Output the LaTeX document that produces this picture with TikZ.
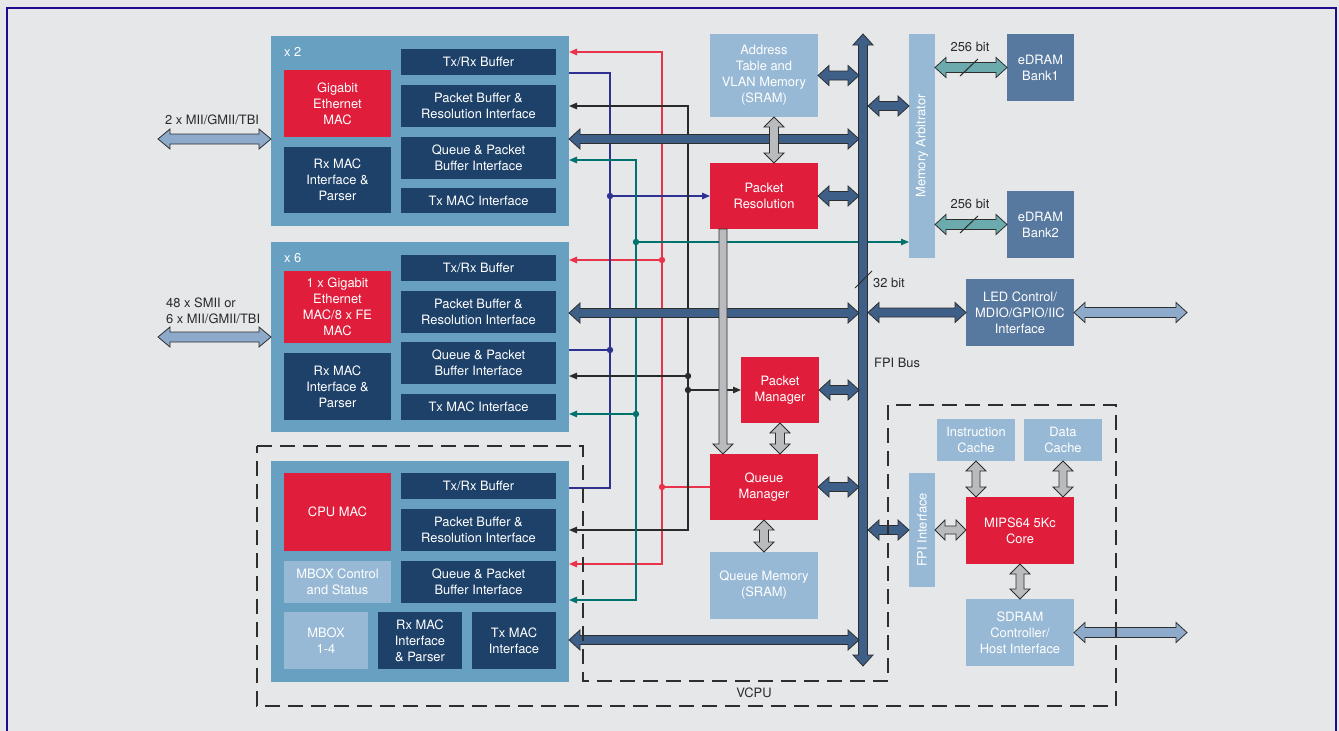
\documentclass[tikz,border=0pt]{standalone}
\usepackage{fontspec}
\setmainfont{TeX Gyre Heros}
\usetikzlibrary{calc,arrows.meta}
\definecolor{cBg}{HTML}{E6E7E9}
\definecolor{cFrame}{HTML}{1A0D8C}
\definecolor{cMac}{HTML}{68A0C2}
\definecolor{cNavy}{HTML}{1E4169}
\definecolor{cRed}{HTML}{E01E3C}
\definecolor{cLight}{HTML}{98B9D5}
\definecolor{cMid}{HTML}{57789F}
\definecolor{cBus}{HTML}{3E5F88}
\definecolor{cGray}{HTML}{B9BBBE}
\definecolor{cExt}{HTML}{8EAACB}
\definecolor{cTealA}{HTML}{6BAAAD}
\definecolor{cOutline}{HTML}{2E2E2E}
\definecolor{cRedL}{HTML}{E8334A}
\definecolor{cBlueL}{HTML}{2E3192}
\definecolor{cBlackL}{HTML}{2A2A2A}
\definecolor{cTealL}{HTML}{00726E}
\definecolor{cText}{HTML}{2A2A2A}
\newcommand\fs{\fontsize{12.9}{16}\selectfont}
% box: name, style, x1, y1, x2, y2, text
\newcommand\bx[7]{\node[#2, minimum width={#5pt-#3pt}, minimum height={#6pt-#4pt}] (#1) at ({(#3+#5)/2},{(#4+#6)/2}) {#7};}
% horizontal double block arrow: style, half shaft, half head, head length, left tip, right tip
\newcommand\dblH[6]{\path[#1] let \p1=#5, \p2=#6 in (\x1,\y1) -- ({\x1+#4},{\y1+#3}) -- ({\x1+#4},{\y1+#2}) -- ({\x2-#4},{\y1+#2}) -- ({\x2-#4},{\y1+#3}) -- (\x2,\y1) -- ({\x2-#4},{\y1-#3}) -- ({\x2-#4},{\y1-#2}) -- ({\x1+#4},{\y1-#2}) -- ({\x1+#4},{\y1-#3}) -- cycle;}
% vertical double block arrow: style, half shaft, half head, head length, top tip, bottom tip
\newcommand\dblV[6]{\path[#1] let \p1=#5, \p2=#6 in (\x1,\y1) -- ({\x1+#3},{\y1-#4}) -- ({\x1+#2},{\y1-#4}) -- ({\x1+#2},{\y2+#4}) -- ({\x1+#3},{\y2+#4}) -- (\x1,\y2) -- ({\x1-#3},{\y2+#4}) -- ({\x1-#2},{\y2+#4}) -- ({\x1-#2},{\y1-#4}) -- ({\x1-#3},{\y1-#4}) -- cycle;}
% vertical single block arrow pointing down
\newcommand\sglV[6]{\path[#1] let \p1=#5, \p2=#6 in ({\x1-#2},\y1) -- ({\x1+#2},\y1) -- ({\x1+#2},{\y2+#4}) -- ({\x1+#3},{\y2+#4}) -- (\x1,\y2) -- ({\x1-#3},{\y2+#4}) -- ({\x1-#2},{\y2+#4}) -- cycle;}
\tikzset{
  base/.style={inner sep=0pt, outer sep=0pt, align=center, font=\fs, text=white},
  outerbox/.style={base, fill=cMac},
  dk/.style={base, fill=cNavy},
  rd/.style={base, fill=cRed},
  lb/.style={base, fill=cLight},
  mb/.style={base, fill=cMid},
  lbl/.style={inner sep=0pt, font=\fs, text=cText},
  busarr/.style={fill=cBus, draw=cOutline, line width=0.8pt},
  grayarr/.style={fill=cGray, draw=cOutline, line width=0.8pt},
  extarr/.style={fill=cExt, draw=cOutline, line width=0.8pt},
  tealarr/.style={fill=cTealA, draw=cOutline, line width=0.8pt},
  sig/.style={line width=1.3pt},
  rl/.style={sig, draw=cRedL},
  bl/.style={sig, draw=cBlueL},
  kl/.style={sig, draw=cBlackL},
  tl/.style={sig, draw=cTealL},
  vcpu/.style={draw=cOutline, line width=2pt, dash pattern=on 15pt off 8pt},
  slash/.style={draw=cText, line width=1pt}
}
\begin{document}
\begin{tikzpicture}[x=1pt, y=-1pt, >={Triangle[length=8pt,width=6.5pt]}]
\useasboundingbox (0,0) rectangle (1339,731);
\fill[cBg] (0,0) rectangle (1339,731);
\draw[cFrame, line width=2pt] (7,731) -- (7,8) -- (1336,8) -- (1336,731);

% ---------- block 1 (x2)
\bx{o1}{outerbox}{271}{36}{569}{226}{}
\bx{g1}{rd}{284}{70}{391}{137}{Gigabit\\Ethernet\\MAC}
\bx{rx1}{dk}{284}{147}{391}{213}{Rx MAC\\Interface \&\\Parser}
\bx{tb1}{dk}{401}{49}{556}{75}{Tx/Rx Buffer}
\bx{pb1}{dk}{401}{85}{556}{127}{Packet Buffer \&\\Resolution Interface}
\bx{qp1}{dk}{401}{137}{556}{179}{Queue \& Packet\\Buffer Interface}
\bx{tm1}{dk}{401}{188}{556}{213}{Tx MAC Interface}
\node[base, anchor=west] (x2) at (284,52) {x 2};

% ---------- block 2 (x6)
\bx{o2}{outerbox}{271}{242}{569}{432}{}
\bx{g2}{rd}{284}{271}{391}{343}{1 x Gigabit\\Ethernet\\MAC/8 x FE\\MAC}
\bx{rx2}{dk}{284}{353}{391}{420}{Rx MAC\\Interface \&\\Parser}
\bx{tb2}{dk}{401}{255}{556}{281}{Tx/Rx Buffer}
\bx{pb2}{dk}{401}{291}{556}{333}{Packet Buffer \&\\Resolution Interface}
\bx{qp2}{dk}{401}{342}{556}{384}{Queue \& Packet\\Buffer Interface}
\bx{tm2}{dk}{401}{394}{556}{420}{Tx MAC Interface}
\node[base, anchor=west] (x6) at (284,258) {x 6};

% ---------- block 3 (CPU)
\bx{o3}{outerbox}{271}{461}{569}{682}{}
\bx{cpu}{rd}{284}{473}{391}{551}{CPU MAC}
\bx{mbc}{lb}{284}{561}{391}{603}{MBOX Control\\and Status}
\bx{mbx}{lb}{284}{612}{368}{669}{MBOX\\1-4}
\bx{rx3}{dk}{378}{612}{462}{669}{Rx MAC\\Interface\\\& Parser}
\bx{tm3}{dk}{472}{612}{556}{669}{Tx MAC\\Interface}
\bx{tb3}{dk}{401}{473}{556}{499}{Tx/Rx Buffer}
\bx{pb3}{dk}{401}{509}{556}{551}{Packet Buffer \&\\Resolution Interface}
\bx{qp3}{dk}{401}{561}{556}{603}{Queue \& Packet\\Buffer Interface}

% ---------- middle components
\bx{addr}{lb}{710}{34}{818}{117}{Address\\Table and\\VLAN Memory\\(SRAM)}
\bx{pr}{rd}{710}{163}{818}{229}{Packet\\Resolution}
\bx{pm}{rd}{741}{357}{819}{423}{Packet\\Manager}
\bx{qm}{rd}{710}{454}{818}{520}{Queue\\Manager}
\bx{qmem}{lb}{710}{552}{818}{619}{Queue Memory\\(SRAM)}

% ---------- right components
\bx{arb}{lb}{909}{34}{935}{258}{}
\node[base, rotate=90] (arbt) at (arb) {Memory Arbitrator};
\bx{ed1}{mb}{1007}{34}{1074}{101}{eDRAM\\Bank1}
\bx{ed2}{mb}{1007}{191}{1074}{258}{eDRAM\\Bank2}
\bx{led}{mb}{966}{279}{1074}{346}{LED Control/\\MDIO/GPIO/IIC\\Interface}
\bx{fpi}{lb}{909}{473}{935}{587}{}
\node[base, rotate=90] (fpit) at (fpi) {FPI Interface};
\bx{ic}{lb}{937}{419}{1015}{461}{Instruction\\Cache}
\bx{dc}{lb}{1024}{419}{1102}{461}{Data\\Cache}
\bx{core}{rd}{966}{497}{1074}{564}{MIPS64 5Kc\\Core}
\bx{sdram}{lb}{966}{599}{1074}{666}{SDRAM\\Controller/\\Host Interface}

% ---------- coordinates
\coordinate (busT) at (863,34);
\coordinate (busB) at (863,666);
\coordinate (bL1) at (859,139);
\coordinate (bL2) at (859,313);
\coordinate (bL3) at (859,640);
\coordinate (bLa) at (859,75.5);
\coordinate (bLp) at (859,196);
\coordinate (bLm) at (859,390);
\coordinate (bLq) at (859,487);
\coordinate (bRa) at (868,106);
\coordinate (bRl) at (868,312.5);
\coordinate (bRf) at (868,530);
\coordinate (ext1) at (158,139);
\coordinate (ext2) at (158,337);
\coordinate (ext3) at (1187,312.5);
\coordinate (ext4) at (1187,632.5);

% signal line coordinates
\coordinate (rj) at (662,487);
\coordinate (rm) at (662,260);
\coordinate (r1) at (569,52);
\coordinate (r2) at (569,260);
\coordinate (r3) at (569,564);
\coordinate (b1) at (569,73);
\coordinate (b2) at (569,350);
\coordinate (b3) at (569,488);
\coordinate (bj1) at (610,196);
\coordinate (bj2) at (610,350);
\coordinate (k1) at (569,106);
\coordinate (k2) at (569,376);
\coordinate (k3) at (569,530);
\coordinate (kj1) at (688,376);
\coordinate (kj2) at (688,390);
\coordinate (t1) at (569,160);
\coordinate (t2) at (569,414);
\coordinate (t3) at (569,600);
\coordinate (tj1) at (636,242);
\coordinate (tj2) at (636,414);

% ---------- thin signal lines
\draw[rl] (qm.west) -- (rj);
\draw[rl,->] (rj) |- (r1);
\draw[rl,->] (rj) |- (r3);
\draw[rl,->] (rm) -- (r2);
\fill[cRedL] (rj) circle (3.2pt) (rm) circle (3.2pt);

\draw[bl] (b1) -| (bj1) -- (bj2) |- (b3);
\draw[bl] (b2) -- (bj2);
\draw[bl,->] (bj1) -- (pr.west);
\fill[cBlueL] (bj1) circle (3.2pt) (bj2) circle (3.2pt);

\draw[kl,<->] (k1) -| (kj1) -- (kj2) |- (k3);
\draw[kl,->] (kj1) -- (k2);
\draw[kl,->] (kj2) -- (pm.west);
\fill[cBlackL] (kj1) circle (3.2pt) (kj2) circle (3.2pt);

\draw[tl,<->] (t1) -| (tj1) -- (tj2) |- (t3);
\draw[tl,->] (tj1) -- (arb.west |- tj1);
\draw[tl,->] (tj2) -- (t2);
\fill[cTealL] (tj1) circle (3.2pt) (tj2) circle (3.2pt);

% ---------- bus and dark arrows
\dblV{busarr}{4.5pt}{10pt}{11pt}{(busT)}{(busB)}
\dblH{busarr}{4.5pt}{10pt}{11pt}{(o1.east |- bL1)}{(bL1)}
\dblH{busarr}{4.5pt}{10pt}{11pt}{(o2.east |- bL2)}{(bL2)}
\dblH{busarr}{4.5pt}{10pt}{11pt}{(o3.east |- bL3)}{(bL3)}
\dblH{busarr}{4.5pt}{10pt}{11pt}{(addr.east)}{(bLa)}
\dblH{busarr}{4.5pt}{10pt}{11pt}{(pr.east)}{(bLp)}
\dblH{busarr}{4.5pt}{10pt}{11pt}{(pm.east)}{(bLm)}
\dblH{busarr}{4.5pt}{10pt}{11pt}{(qm.east)}{(bLq)}
\dblH{busarr}{4.5pt}{10pt}{11pt}{(bRa)}{(arb.west |- bRa)}
\dblH{busarr}{4.5pt}{10pt}{11pt}{(bRl)}{(led.west)}
\dblH{busarr}{4.5pt}{10pt}{11pt}{(bRf)}{(fpi.west)}

% ---------- gray arrows
\dblV{grayarr}{4.5pt}{10pt}{10pt}{($(addr.south)+(10,0)$)}{($(pr.north)+(10,0)$)}
\sglV{grayarr}{4pt}{10pt}{10pt}{($(pr.south)+(-41,0)$)}{($(qm.north)+(-41,0)$)}
\dblV{grayarr}{4.5pt}{10pt}{10pt}{(pm.south)}{(pm.south |- qm.north)}
\dblV{grayarr}{4.5pt}{10pt}{10pt}{(qm.south)}{(qmem.north)}
\dblV{grayarr}{4pt}{10pt}{10pt}{(ic.south)}{(ic.south |- core.north)}
\dblV{grayarr}{4pt}{10pt}{10pt}{(dc.south)}{(dc.south |- core.north)}
\dblH{grayarr}{4pt}{10pt}{10pt}{(fpi.east)}{(core.west)}
\dblV{grayarr}{4pt}{10pt}{10pt}{(core.south)}{(sdram.north)}

% ---------- external and teal arrows
\dblH{extarr}{5pt}{10pt}{12pt}{(ext1)}{(o1.west |- ext1)}
\dblH{extarr}{5pt}{10pt}{12pt}{(ext2)}{(o2.west |- ext2)}
\dblH{extarr}{5pt}{10pt}{11pt}{(led.east)}{(ext3)}
\dblH{extarr}{5pt}{10pt}{11pt}{(sdram.east)}{(ext4)}
\dblH{tealarr}{5pt}{10pt}{11pt}{(arb.east |- ed1)}{(ed1.west)}
\dblH{tealarr}{5pt}{10pt}{11pt}{(arb.east |- ed2)}{(ed2.west)}
\draw[slash] (960,76) -- (978,59);
\draw[slash] (960,233) -- (978,216);
\draw[slash] (855,288) -- (872,271);

% ---------- VCPU outline
\draw[vcpu] (257,446) -- (583,446) -- (583,681) -- (888,681) -- (888,405) -- (1116,405) -- (1116,706) -- (257,706) -- cycle;

% ---------- labels
\node[lbl] (l256a) at (970,47) {256 bit};
\node[lbl] (l256b) at (970,204) {256 bit};
\node[lbl, anchor=west] (l32) at (873,283) {32 bit};
\node[lbl, anchor=west] (lfpi) at (874,363) {FPI Bus};
\node[lbl] (lvcpu) at (754,693) {VCPU};
\node[lbl] (lext1) at (212,120) {2 x MII/GMII/TBI};
\node[lbl, anchor=west, align=left] (lext2) at (166,311) {48 x SMII or\\6 x MII/GMII/TBI};
\end{tikzpicture}
\end{document}
